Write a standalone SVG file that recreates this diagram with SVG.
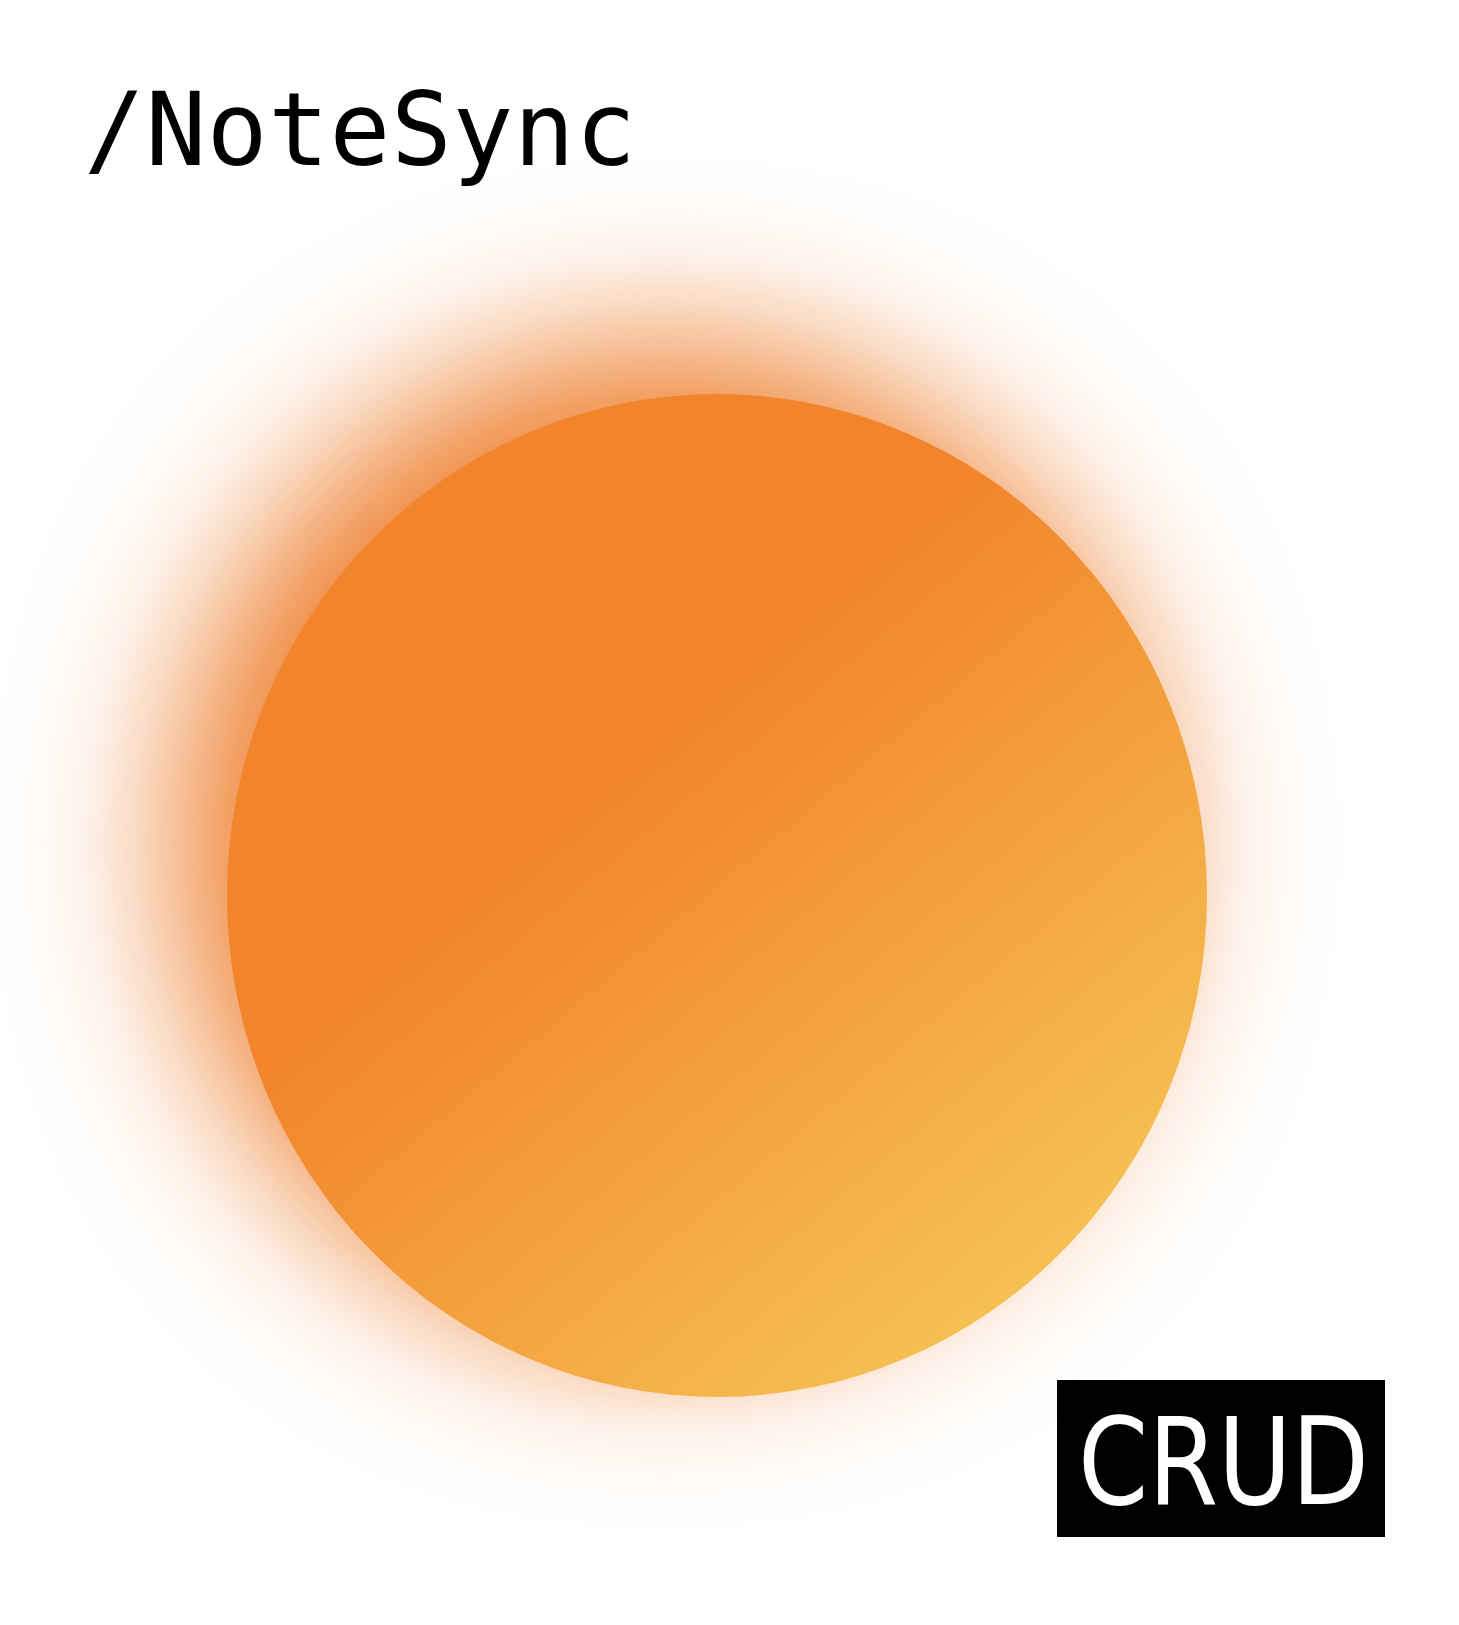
<svg xmlns="http://www.w3.org/2000/svg" width="1459" height="1625" viewBox="0 0 1459 1625">
  <defs>
    <style>
      .title { font-family: "DejaVu Sans Mono", "Liberation Mono", monospace; font-size: 101px; fill: #000000; }
      .tag { font-family: "DejaVu Sans Condensed", "DejaVu Sans", sans-serif; font-size: 122px; fill: #ffffff; }
    </style>
    <linearGradient id="sunGrad" x1="0.3" y1="0.3" x2="0.85" y2="0.97" gradientUnits="objectBoundingBox">
      <stop offset="0.15" stop-color="#F2852B"/>
      <stop offset="1" stop-color="#F6C857"/>
    </linearGradient>
    <filter id="glowBlur" x="-50%" y="-50%" width="200%" height="200%">
      <feGaussianBlur stdDeviation="80"/>
    </filter>
  </defs>
  <rect x="0" y="0" width="1459" height="1625" fill="#ffffff"/>
  <g id="sun">
    <ellipse cx="665" cy="843" rx="490" ry="501" fill="#EE7D2C" filter="url(#glowBlur)"/>
    <ellipse cx="717" cy="895.5" rx="490" ry="501.5" fill="url(#sunGrad)"/>
  </g>
  <g id="title">
    <text class="title" x="84" y="165" textLength="552" lengthAdjust="spacing">/NoteSync</text>
  </g>
  <g id="crud">
    <rect x="1057" y="1380" width="328" height="157" fill="#000000"/>
    <text class="tag" x="1078" y="1504" textLength="291" lengthAdjust="spacingAndGlyphs">CRUD</text>
  </g>
</svg>
